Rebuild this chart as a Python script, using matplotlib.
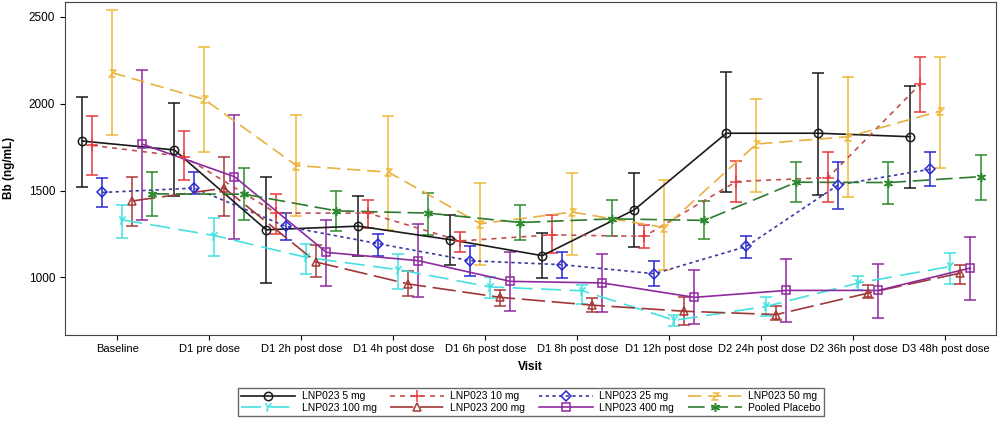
import numpy as np
import matplotlib
matplotlib.use("Agg")
import matplotlib.pyplot as plt

plt.rcParams['font.family'] = ['Liberation Sans', 'DejaVu Sans']

visits = ["Baseline", "D1 pre dose", "D1 2h post dose", "D1 4h post dose",
          "D1 6h post dose", "D1 8h post dose", "D1 12h post dose",
          "D2 24h post dose", "D2 36h post dose", "D3 48h post dose"]

groups = ["LNP023 5 mg", "LNP023 10 mg", "LNP023 25 mg", "LNP023 50 mg",
          "LNP023 100 mg", "LNP023 200 mg", "LNP023 400 mg", "Pooled Placebo"]

# mean, lower and upper end of error bar, per group and visit
mean_5 = [1785, 1734, 1274, 1295, 1217, 1125, 1389, 1830, 1830, 1810]
low_5 = [1523, 1466, 968, 1121, 1073, 997, 1175, 1489, 1475, 1517]
up_5 = [2040, 2006, 1577, 1471, 1360, 1255, 1603, 2180, 2178, 2103]

mean_10 = [1760, 1695, 1370, 1370, 1210, 1245, 1236, 1552, 1575, 2113]
low_10 = [1588, 1561, 1249, 1284, 1146, 1140, 1167, 1433, 1433, 1951]
up_10 = [1929, 1843, 1479, 1445, 1261, 1360, 1301, 1671, 1724, 2270]

mean_25 = [1489, 1514, 1293, 1194, 1096, 1073, 1021, 1178, 1533, 1623]
low_25 = [1405, 1481, 1217, 1125, 1010, 997, 948, 1112, 1393, 1527]
up_25 = [1571, 1606, 1368, 1251, 1182, 1146, 1092, 1241, 1667, 1724]

mean_50 = [2178, 2025, 1644, 1606, 1309, 1376, 1287, 1768, 1810, 1958]
low_50 = [1818, 1724, 1353, 1274, 1069, 1126, 1044, 1491, 1462, 1629]
up_50 = [2538, 2328, 1935, 1929, 1543, 1603, 1561, 2027, 2155, 2267]

mean_100 = [1331, 1241, 1115, 1044, 945, 923, 753, 833, 968, 1063]
low_100 = [1226, 1125, 1020, 933, 882, 849, 722, 776, 929, 964]
up_100 = [1418, 1341, 1192, 1136, 1002, 958, 786, 885, 1010, 1140]

mean_200 = [1440, 1514, 1088, 962, 885, 840, 805, 786, 910, 1025]
low_200 = [1297, 1356, 1000, 895, 837, 800, 728, 753, 882, 964]
up_200 = [1577, 1695, 1184, 1034, 929, 880, 885, 837, 954, 1073]

mean_400 = [1767, 1580, 1144, 1096, 977, 968, 885, 925, 925, 1054]
low_400 = [1331, 1221, 952, 885, 805, 801, 734, 744, 767, 872]
up_400 = [2194, 1935, 1331, 1309, 1146, 1136, 1040, 1107, 1079, 1232]

mean_pl = [1481, 1479, 1383, 1370, 1316, 1337, 1328, 1548, 1546, 1580]
low_pl = [1351, 1328, 1268, 1245, 1213, 1236, 1221, 1433, 1422, 1446]
up_pl = [1609, 1629, 1498, 1485, 1418, 1446, 1437, 1663, 1663, 1705]

means = [mean_5, mean_10, mean_25, mean_50, mean_100, mean_200, mean_400, mean_pl]
lows = [low_5, low_10, low_25, low_50, low_100, low_200, low_400, low_pl]
ups = [up_5, up_10, up_25, up_50, up_100, up_200, up_400, up_pl]

colors = ["#1a1a1a", "#e83a3a", "#2a2ad0", "#f0b83a",
          "#45e0e0", "#a83838", "#8e2a9e", "#2e8a2e"]
line_colors = ["#1a1a1a", "#c05050", "#3a3aa0", "#e8b040",
               "#45e0e0", "#a03838", "#8e2a9e", "#2e7a2e"]
styles = ["-", (0, (3, 3)), (0, (2, 2)), (0, (8, 4)),
          (0, (12, 5)), (0, (14, 4)), "-", (0, (10, 4))]
markers = ["o", "+", "D", "$Z$", "$Y$", "^", "s", (6, 2, 0)]
msizes = [6, 8, 5, 5.5, 5.5, 5.5, 6, 6.5]
mew = [1.1, 1.1, 1.1, 0.6, 0.6, 1.1, 1.1, 1.1]

fig = plt.figure(figsize=(9.98, 4.21), dpi=100)
ax = fig.add_axes([0.065, 0.205, 0.933, 0.79])

x = np.arange(len(visits))
offsets = (np.arange(len(groups)) - 3.5) * 0.109

handles = []
for i in range(len(groups)):
    xs = x + offsets[i]
    m = np.array(means[i])
    lo = m - np.array(lows[i])
    hi = np.array(ups[i]) - m
    ax.errorbar(xs, m, yerr=[lo, hi], fmt="none", ecolor=colors[i],
                elinewidth=1.1, capsize=4.5, capthick=1.1, zorder=2)
    ax.plot(xs, m, color=line_colors[i], linestyle=styles[i], linewidth=1.2, zorder=3)
    ax.plot(xs, m, linestyle="none", marker=markers[i], markersize=msizes[i],
            markerfacecolor="none", markeredgecolor=colors[i],
            markeredgewidth=mew[i], zorder=4)
    h, = ax.plot([], [], color=line_colors[i], linestyle=styles[i], linewidth=1.2,
                 marker=markers[i], markersize=msizes[i], markerfacecolor="none",
                 markeredgecolor=colors[i], markeredgewidth=mew[i])
    handles.append(h)

ax.set_xlim(-0.57, 9.55)
ax.set_ylim(670, 2585)
ax.set_xticks(x)
ax.set_xticklabels(visits, fontsize=8)
ax.set_yticks([1000, 1500, 2000, 2500])
ax.tick_params(axis="y", labelsize=8.5)
for s in ax.spines.values():
    s.set_color("#444444")
ax.set_xlabel("Visit", fontsize=8.5, fontweight="bold", labelpad=5)
ax.set_ylabel("Bb (ng/mL)", fontsize=8.5, fontweight="bold", labelpad=10)

# legend filled row by row: 4 columns, 2 rows
order = [0, 4, 1, 5, 2, 6, 3, 7]
leg = fig.legend([handles[k] for k in order], [groups[k] for k in order],
                 ncol=4, loc="center", bbox_to_anchor=(0.532, 0.045),
                 fontsize=7.5, frameon=True, fancybox=False, edgecolor="#444444",
                 handlelength=5.2, columnspacing=1.3, labelspacing=0.15,
                 borderpad=0.3, handletextpad=0.6)
leg.get_frame().set_linewidth(1.0)

fig.savefig("out.png", dpi=100)
